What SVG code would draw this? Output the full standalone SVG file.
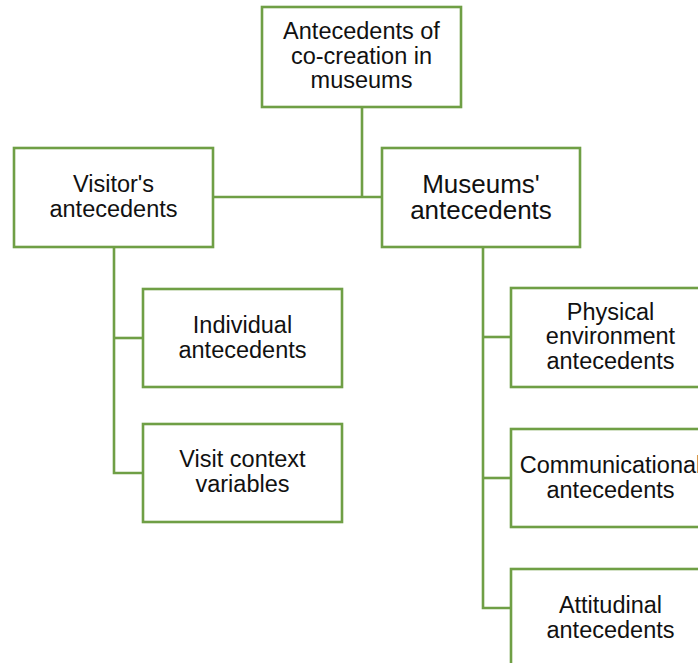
<svg xmlns="http://www.w3.org/2000/svg" width="698" height="663" viewBox="0 0 698 663">
  <style>
    .box { fill: #ffffff; stroke: #6f9f45; stroke-width: 2.6; }
    .link { fill: none; stroke: #6f9f45; stroke-width: 2.6; }
    .lbl { font-family: "Liberation Sans", Arial, sans-serif; font-size: 23.5px; fill: #111111; text-anchor: middle; }
    .big { font-size: 26px; }
  </style>
  <rect width="698" height="663" fill="#ffffff"/>

  <!-- tree connectors -->
  <g id="connectors">
    <path class="link" d="M362 107 V197"/>
    <path class="link" d="M213 197 H382"/>
    <path class="link" d="M114 247 V473 H143"/>
    <path class="link" d="M114 338 H143"/>
    <path class="link" d="M483 247 V608 H511"/>
    <path class="link" d="M483 337 H511"/>
    <path class="link" d="M483 478 H511"/>
  </g>

  <g id="root">
    <rect class="box" x="262" y="7" width="199" height="100"/>
    <text class="lbl" x="361.5" y="39">Antecedents of</text>
    <text class="lbl" x="361.5" y="63.5">co-creation in</text>
    <text class="lbl" x="361.5" y="88">museums</text>
  </g>

  <g id="visitor">
    <rect class="box" x="14" y="148" width="199" height="99"/>
    <text class="lbl" x="113.5" y="192">Visitor's</text>
    <text class="lbl" x="113.5" y="216.5">antecedents</text>
  </g>

  <g id="museums">
    <rect class="box" x="382" y="148" width="198" height="99"/>
    <text class="lbl big" x="481" y="193">Museums'</text>
    <text class="lbl big" x="481" y="219">antecedents</text>
  </g>

  <g id="individual">
    <rect class="box" x="143" y="289" width="199" height="98"/>
    <text class="lbl" x="242.5" y="333">Individual</text>
    <text class="lbl" x="242.5" y="357.5">antecedents</text>
  </g>

  <g id="visit-context">
    <rect class="box" x="143" y="424" width="199" height="98"/>
    <text class="lbl" x="242.5" y="467">Visit context</text>
    <text class="lbl" x="242.5" y="491.5">variables</text>
  </g>

  <g id="physical">
    <rect class="box" x="511" y="288" width="199" height="99"/>
    <text class="lbl" x="610.5" y="320">Physical</text>
    <text class="lbl" x="610.5" y="344">environment</text>
    <text class="lbl" x="610.5" y="368.5">antecedents</text>
  </g>

  <g id="communicational">
    <rect class="box" x="511" y="429" width="199" height="98"/>
    <text class="lbl" x="610.5" y="473">Communicational</text>
    <text class="lbl" x="610.5" y="497.5">antecedents</text>
  </g>

  <g id="attitudinal">
    <rect class="box" x="511" y="569" width="199" height="99"/>
    <text class="lbl" x="610.5" y="613">Attitudinal</text>
    <text class="lbl" x="610.5" y="638">antecedents</text>
  </g>
</svg>
